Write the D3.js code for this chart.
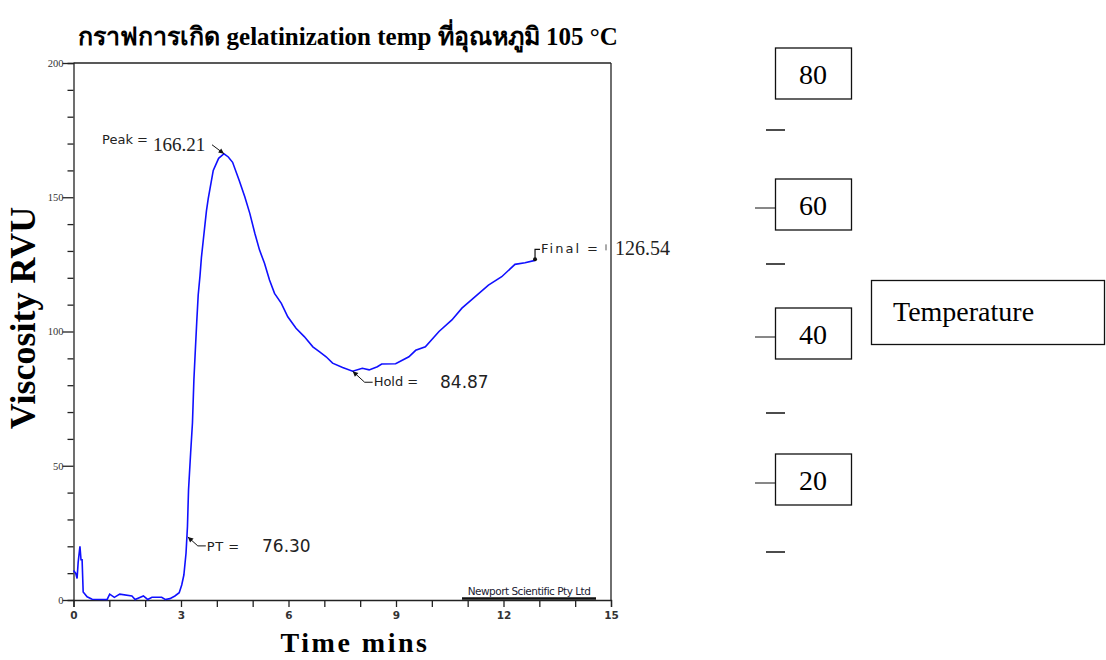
<!DOCTYPE html>
<html>
<head>
<meta charset="utf-8">
<script src="https://cdn.jsdelivr.net/npm/d3@7"></script>
<style>
  body { margin: 0; background: #fff; }
  svg { display: block; }
</style>
</head>
<body>
<div id="chart"></div>
<script>
// RVA trace
var timeMin = [0.00, 0.06, 0.10, 0.13, 0.18, 0.21, 0.24, 0.27, 0.38, 0.52, 0.94, 1.01, 1.14, 1.29, 1.63, 1.72, 1.95, 2.07, 2.19, 2.46, 2.56, 2.69, 2.83, 2.95, 3.02, 3.08, 3.14, 3.18, 3.21, 3.27, 3.32, 3.36, 3.40, 3.44, 3.48, 3.53, 3.57, 3.62, 3.67, 3.71, 3.76, 3.90, 4.05, 4.20, 4.32, 4.44, 4.62, 4.78, 4.92, 5.06, 5.19, 5.33, 5.47, 5.61, 5.80, 5.98, 6.21, 6.44, 6.68, 6.86, 7.05, 7.23, 7.51, 7.79, 8.06, 8.25, 8.48, 8.60, 8.99, 9.36, 9.55, 9.82, 10.20, 10.56, 10.84, 11.21, 11.58, 11.95, 12.32, 12.60, 12.88];
var viscosity = [11, 10, 8, 14, 20, 15, 15, 3, 1.2, 0.3, 0.2, 2.2, 1, 2.2, 1.5, 0.2, 1.5, 0.2, 1, 1, 0.2, 0.5, 1.5, 2.7, 5.6, 9.3, 17.4, 27.3, 41, 55, 66, 82, 93, 103.7, 113.6, 120.7, 127.6, 133.8, 140, 144.9, 149.5, 160, 164.5, 166.2, 165, 163, 156.4, 150.2, 144, 136.6, 130.4, 125.4, 119.2, 114.2, 110.5, 105.5, 101.2, 98.1, 94.3, 92.5, 90.6, 88.2, 86.6, 85.2, 86.3, 85.7, 86.9, 87.9, 88, 90.6, 93, 94.3, 100, 104.3, 108.7, 113, 117.3, 120.4, 125, 125.6, 126.5];

// markers on the trace
var annNames = ["Peak =", "Hold =", "PT =", "Final ="];
var annValues = ["166.21", "84.87", "76.30", "126.54"];
var annT = [4.20, 7.79, 3.19, 12.88];
var annV = [166.2, 85.2, 23.5, 126.5];

var xTicks = [0, 3, 6, 9, 12, 15];
var yTicks = [0, 50, 100, 150, 200];

// the separate temperature scale on the right
var tempLabels = [80, 60, 40, 20];
var tempDashes = [70, 50, 30, 10];
var tempLinked = [60, 40, 20];

var W = 1106, H = 660;
var svg = d3.select("#chart").append("svg")
  .attr("width", W).attr("height", H);

var x = d3.scaleLinear().domain([0, 15]).range([73.5, 611]);
var y = d3.scaleLinear().domain([0, 200]).range([600, 63]);

var sans = "Tahoma, 'DejaVu Sans', sans-serif";
var serif = "'Liberation Serif', 'Times New Roman', serif";

// title
svg.append("text")
  .attr("x", 348).attr("y", 45)
  .attr("text-anchor", "middle")
  .style("font-family", serif)
  .style("font-weight", "bold")
  .style("font-size", "25px")
  .text("กราฟการเกิด gelatinization temp ที่อุณหภูมิ 105 °C");

// frame top + right
svg.append("line").attr("x1", x(0)).attr("x2", x(15)).attr("y1", y(200)).attr("y2", y(200))
  .attr("stroke", "#222").attr("stroke-width", 1.3);
svg.append("line").attr("x1", x(15)).attr("x2", x(15)).attr("y1", y(200)).attr("y2", y(0))
  .attr("stroke", "#222").attr("stroke-width", 1.3);

// x axis
var xAxis = d3.axisBottom(x).tickValues(d3.range(0, 16, 1)).tickSize(7)
  .tickFormat(function(d){ return xTicks.indexOf(d) >= 0 ? d : ""; });
var gx = svg.append("g").attr("transform", "translate(0," + y(0) + ")").call(xAxis);
gx.select(".domain").attr("stroke", "#222").attr("stroke-width", 1.3);
gx.selectAll(".tick line").attr("stroke", "#222").attr("stroke-width", 1.3);
gx.selectAll(".tick text")
  .attr("dy", "0.9em")
  .style("font-family", sans)
  .style("font-size", "10.5px").style("font-weight", "bold").attr("fill", "#333");

// y axis
var yAxis = d3.axisLeft(y).tickValues(d3.range(0, 201, 10))
  .tickSize(6)
  .tickFormat(function(d){ return yTicks.indexOf(d) >= 0 ? d : ""; });
var gy = svg.append("g").attr("transform", "translate(" + x(0) + ",0)").call(yAxis);
gy.select(".domain").attr("stroke", "#222").attr("stroke-width", 1.3);
gy.selectAll(".tick line").attr("stroke", "#222").attr("stroke-width", 1.3)
  .attr("x2", function(d){ return yTicks.indexOf(d) >= 0 ? -11 : -6; });
gy.selectAll(".tick text")
  .attr("x", -10)
  .style("font-family", serif)
  .style("font-size", "10.5px").attr("fill", "#333");

// axis titles
svg.append("text")
  .attr("transform", "translate(35,318) rotate(-90)")
  .attr("text-anchor", "middle")
  .style("font-family", serif)
  .style("font-weight", "bold").style("font-size", "36px")
  .text("Viscosity RVU");
svg.append("text")
  .attr("x", 355).attr("y", 652)
  .attr("text-anchor", "middle")
  .style("font-family", serif)
  .style("font-weight", "bold").style("font-size", "28px")
  .style("letter-spacing", "2.5px")
  .text("Time mins");

// instrument stamp
svg.append("text")
  .attr("x", 529).attr("y", 595)
  .attr("text-anchor", "middle")
  .style("font-family", sans)
  .style("font-size", "10.5px").style("letter-spacing", "-0.5px")
  .attr("fill", "#223")
  .text("Newport Scientific Pty Ltd");
svg.append("line").attr("x1", 462).attr("x2", 596).attr("y1", 598.5).attr("y2", 598.5)
  .attr("stroke", "#111").attr("stroke-width", 2.5);

// trace
var pts = timeMin.map(function(t, i){ return [t, viscosity[i]]; });
svg.append("path")
  .datum(pts)
  .attr("fill", "none")
  .attr("stroke", "#1010ff")
  .attr("stroke-width", 1.6)
  .attr("d", d3.line().x(function(d){ return x(d[0]); }).y(function(d){ return y(d[1]); }));

// annotations
function arrowHead(tx, ty, fx, fy){
  var a = Math.atan2(ty - fy, tx - fx), L = 6, s = 0.45;
  return "M" + tx + "," + ty +
    "L" + (tx - L*Math.cos(a - s)) + "," + (ty - L*Math.sin(a - s)) +
    "L" + (tx - L*Math.cos(a + s)) + "," + (ty - L*Math.sin(a + s)) + "Z";
}
var ann = svg.append("g");

// Peak
var px = x(annT[0]), py = y(annV[0]);
ann.append("line").attr("x1", px - 12).attr("y1", py - 9).attr("x2", px).attr("y2", py)
  .attr("stroke", "#111").attr("stroke-width", 1);
ann.append("path").attr("d", arrowHead(px, py, px - 12, py - 9)).attr("fill", "#111");
ann.append("text").attr("x", 148).attr("y", 144).attr("text-anchor", "end")
  .style("font-family", sans).style("font-size", "13px").attr("fill", "#222").text(annNames[0]);
ann.append("text").attr("x", 153).attr("y", 151)
  .style("font-family", serif).style("font-size", "19px").attr("fill", "#222").text(annValues[0]);

// Hold
var hx = x(annT[1]), hy = y(annV[1]);
ann.append("polyline").attr("points", [hx, hy, hx + 12, hy + 11, hx + 20, hy + 11].join(","))
  .attr("fill", "none").attr("stroke", "#111").attr("stroke-width", 1);
ann.append("path").attr("d", arrowHead(hx, hy, hx + 12, hy + 11)).attr("fill", "#111");
ann.append("text").attr("x", hx + 21).attr("y", hy + 15)
  .style("font-family", sans).style("font-size", "13px").attr("fill", "#222").text(annNames[1]);
ann.append("text").attr("x", 440).attr("y", hy + 17)
  .style("font-family", sans).style("font-size", "17px").attr("fill", "#222").text(annValues[1]);

// PT
var tx = x(annT[2]), ty = y(annV[2]);
ann.append("polyline").attr("points", [tx, ty, tx + 10, ty + 9, tx + 18, ty + 9].join(","))
  .attr("fill", "none").attr("stroke", "#111").attr("stroke-width", 1);
ann.append("path").attr("d", arrowHead(tx, ty, tx + 10, ty + 9)).attr("fill", "#111");
ann.append("text").attr("x", tx + 19).attr("y", ty + 14)
  .style("font-family", sans).style("font-size", "13px").style("letter-spacing", "0.5px")
  .attr("fill", "#222").text(annNames[2]);
ann.append("text").attr("x", 262).attr("y", ty + 15)
  .style("font-family", sans).style("font-size", "17px").attr("fill", "#222").text(annValues[2]);

// Final
var fx = x(annT[3]), fy = y(annV[3]);
ann.append("polyline").attr("points", [fx, fy, fx, fy - 11, fx + 5, fy - 11].join(","))
  .attr("fill", "none").attr("stroke", "#111").attr("stroke-width", 1.2);
ann.append("circle").attr("cx", fx).attr("cy", fy - 1).attr("r", 2).attr("fill", "#111");
ann.append("text").attr("x", fx + 6).attr("y", fy - 7)
  .style("font-family", sans).style("font-size", "13px").style("letter-spacing", "2px")
  .attr("fill", "#222").text(annNames[3]);
ann.append("line").attr("x1", 606).attr("x2", 606).attr("y1", fy - 16).attr("y2", fy - 10)
  .attr("stroke", "#555").attr("stroke-width", 1);
ann.append("text").attr("x", 615).attr("y", fy - 5)
  .style("font-family", serif).style("font-size", "20px").attr("fill", "#222").text(annValues[3]);

// right-hand temperature pieces
var tY = d3.scaleLinear()
  .domain([10, 20, 30, 40, 50, 60, 70, 80])
  .range([552, 480, 413, 334, 264, 205, 130, 74]);
var tg = svg.append("g");
tg.selectAll("rect.tbox").data(tempLabels).enter().append("rect")
  .attr("class", "tbox")
  .attr("x", 775.5).attr("width", 76)
  .attr("y", function(d){ return tY(d) - 26; }).attr("height", 51)
  .attr("fill", "none").attr("stroke", "#111").attr("stroke-width", 1.3);
tg.selectAll("text.tlab").data(tempLabels).enter().append("text")
  .attr("class", "tlab")
  .attr("x", 813).attr("y", function(d){ return tY(d) + 10; })
  .attr("text-anchor", "middle")
  .style("font-family", serif).style("font-size", "28px")
  .text(function(d){ return d; });
tg.selectAll("line.tdash").data(tempDashes).enter().append("line")
  .attr("class", "tdash")
  .attr("x1", 766).attr("x2", 785)
  .attr("y1", function(d){ return tY(d); }).attr("y2", function(d){ return tY(d); })
  .attr("stroke", "#111").attr("stroke-width", 1.5);
tg.selectAll("line.tlink").data(tempLinked).enter().append("line")
  .attr("class", "tlink")
  .attr("x1", 755).attr("x2", 775)
  .attr("y1", function(d){ return tY(d) + 3; }).attr("y2", function(d){ return tY(d) + 3; })
  .attr("stroke", "#111").attr("stroke-width", 1);

tg.append("rect").attr("x", 871.5).attr("y", 280.5).attr("width", 233).attr("height", 64)
  .attr("fill", "none").attr("stroke", "#111").attr("stroke-width", 1.3);
tg.append("text").attr("x", 893).attr("y", 321)
  .style("font-family", serif).style("font-size", "28px")
  .text("Temperature");
</script>
</body>
</html>
